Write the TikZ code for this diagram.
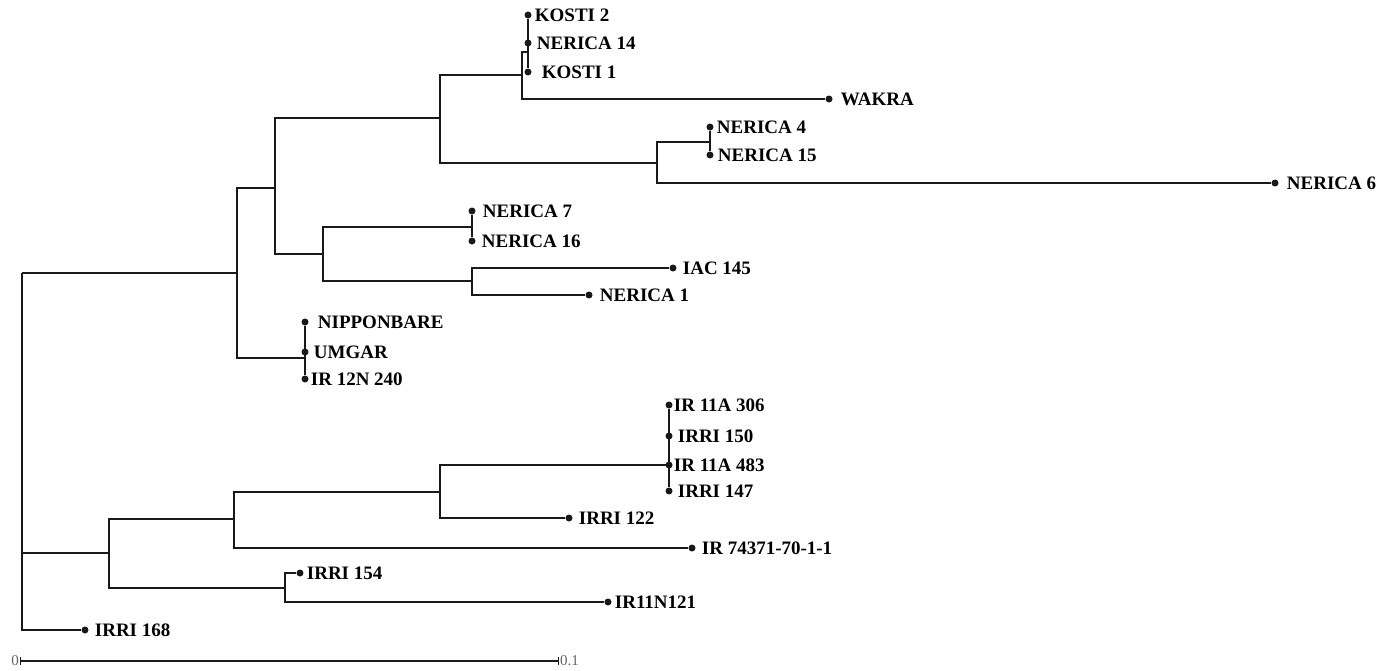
\documentclass[tikz,border=0pt]{standalone}
\usepackage{fontspec}
\setmainfont{Liberation Serif}
\usetikzlibrary{positioning}
\definecolor{treeline}{RGB}{25,25,25}
\definecolor{scalegray}{RGB}{100,100,100}

\begin{document}
\begin{tikzpicture}[x=1pt, y=-1pt,
    leaf/.style={circle, fill=treeline, inner sep=0pt, minimum size=7pt},
    taxon/.style={inner sep=0pt, font=\fontsize{19}{19}\selectfont\bfseries, text=black},
    branch/.style={draw=treeline, line width=1.5pt},
    scalebar/.style={draw=treeline, line width=1.1pt, |-|},
    scalelbl/.style={inner sep=1pt, font=\fontsize{15}{15}\selectfont, text=scalegray}
]
    \useasboundingbox (0,0) rectangle (1395,670);

    \node[leaf] (kosti2) at (528,15) {};      \node[taxon, right=3pt of kosti2] (t-kosti2) {KOSTI 2};
    \node[leaf] (nerica14) at (528,43) {};    \node[taxon, right=5pt of nerica14] (t-nerica14) {NERICA 14};
    \node[leaf] (kosti1) at (528,72) {};      \node[taxon, right=10pt of kosti1] (t-kosti1) {KOSTI 1};
    \node[leaf] (wakra) at (829,99) {};       \node[taxon, right=8pt of wakra] (t-wakra) {WAKRA};
    \node[leaf] (nerica4) at (710,127) {};    \node[taxon, right=3pt of nerica4] (t-nerica4) {NERICA 4};
    \node[leaf] (nerica15) at (710,155) {};   \node[taxon, right=4pt of nerica15] (t-nerica15) {NERICA 15};
    \node[leaf] (nerica6) at (1275,183) {};   \node[taxon, right=8pt of nerica6] (t-nerica6) {NERICA 6};
    \node[leaf] (nerica7) at (472,211) {};    \node[taxon, right=7pt of nerica7] (t-nerica7) {NERICA 7};
    \node[leaf] (nerica16) at (472,241) {};   \node[taxon, right=6pt of nerica16] (t-nerica16) {NERICA 16};
    \node[leaf] (iac145) at (673,268) {};     \node[taxon, right=6pt of iac145] (t-iac145) {IAC 145};
    \node[leaf] (nerica1) at (589,295) {};    \node[taxon, right=7pt of nerica1] (t-nerica1) {NERICA 1};
    \node[leaf] (nipponbare) at (305,322) {}; \node[taxon, right=9pt of nipponbare] (t-nipponbare) {NIPPONBARE};
    \node[leaf] (umgar) at (305,352) {};      \node[taxon, right=5pt of umgar] (t-umgar) {UMGAR};
    \node[leaf] (ir12n240) at (305,379) {};   \node[taxon, right=2pt of ir12n240] (t-ir12n240) {IR 12N 240};
    \node[leaf] (ir11a306) at (669,405) {};   \node[taxon, right=1pt of ir11a306] (t-ir11a306) {IR 11A 306};
    \node[leaf] (irri150) at (669,436) {};    \node[taxon, right=5pt of irri150] (t-irri150) {IRRI 150};
    \node[leaf] (ir11a483) at (669,465) {};   \node[taxon, right=1pt of ir11a483] (t-ir11a483) {IR 11A 483};
    \node[leaf] (irri147) at (669,491) {};    \node[taxon, right=5pt of irri147] (t-irri147) {IRRI 147};
    \node[leaf] (irri122) at (569,518) {};    \node[taxon, right=6pt of irri122] (t-irri122) {IRRI 122};
    \node[leaf] (ir74371) at (692,548) {};    \node[taxon, right=6pt of ir74371] (t-ir74371) {IR 74371-70-1-1};
    \node[leaf] (irri154) at (300,573) {};    \node[taxon, right=3pt of irri154] (t-irri154) {IRRI 154};
    \node[leaf] (ir11n121) at (608,602) {};   \node[taxon, right=3pt of ir11n121] (t-ir11n121) {IR11N121};
    \node[leaf] (irri168) at (85,630) {};     \node[taxon, right=6pt of irri168] (t-irri168) {IRRI 168};

    \coordinate (kg) at (528,52);
    \coordinate (c) at (522,75);
    \coordinate (n4g) at (710,142);
    \coordinate (d) at (657,163);
    \coordinate (b) at (440,118);
    \coordinate (n7g) at (472,227);
    \coordinate (f) at (472,281);
    \coordinate (e) at (323,254);
    \coordinate (a) at (275,188);
    \coordinate (nipg) at (305,358);
    \coordinate (g) at (237,273);
    \coordinate (irg) at (669,465);
    \coordinate (j) at (440,492);
    \coordinate (i) at (234,519);
    \coordinate (k) at (285,588);
    \coordinate (h) at (109,553);
    \coordinate (root) at (22,273);

    \draw[branch] (kosti2) -- (kosti1);
    \draw[branch] (nerica4) -- (nerica15);
    \draw[branch] (nerica7) -- (nerica16);
    \draw[branch] (nipponbare) -- (ir12n240);
    \draw[branch] (ir11a306) -- (irri147);

    \draw[branch] (c) |- (kg) (c) |- (wakra);
    \draw[branch] (d) |- (n4g) (d) |- (nerica6);
    \draw[branch] (b) |- (c) (b) |- (d);
    \draw[branch] (f) |- (iac145) (f) |- (nerica1);
    \draw[branch] (e) |- (n7g) (e) |- (f);
    \draw[branch] (a) |- (b) (a) |- (e);
    \draw[branch] (g) |- (a) (g) |- (nipg);
    \draw[branch] (j) |- (irg) (j) |- (irri122);
    \draw[branch] (i) |- (j) (i) |- (ir74371);
    \draw[branch] (k) |- (irri154) (k) |- (ir11n121);
    \draw[branch] (h) |- (i) (h) |- (k);
    \draw[branch] (root) |- (g) (root) |- (h) (root) |- (irri168);

    \node[scalelbl, anchor=east] (s0) at (20,661) {0};
    \node[scalelbl, anchor=west] (s1) at (559,661) {0.1};
    \draw[scalebar] (s0.east) -- (s1.west);
\end{tikzpicture}
\end{document}
